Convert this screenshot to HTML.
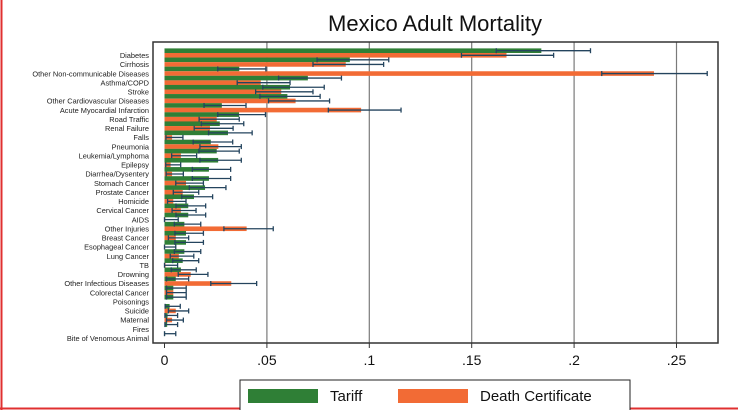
<!DOCTYPE html>
<html><head><meta charset="utf-8"><style>
body{margin:0;background:#fff;width:738px;height:410px;overflow:hidden;font-family:"Liberation Sans",sans-serif}
</style></head><body>
<svg id="c" width="738" height="410" xmlns="http://www.w3.org/2000/svg">
<rect x="0" y="0" width="738" height="410" fill="#fff"/>
<line x1="1.5" y1="0" x2="1.5" y2="410" stroke="#e03030" stroke-width="2"/>
<line x1="0" y1="408.5" x2="738" y2="408.5" stroke="#e03030" stroke-width="2"/>
<text x="435" y="31" font-size="22" text-anchor="middle" fill="#111">Mexico Adult Mortality</text>
<g id="plot"></g>
<g>
<rect x="240" y="380" width="390" height="32" fill="#fff" stroke="#222" stroke-width="1"/>
<rect x="248" y="389" width="70" height="14" fill="#2f7f36"/>
<text x="330" y="401" font-size="15" fill="#111">Tariff</text>
<rect x="398" y="389" width="70" height="14" fill="#f26b35"/>
<text x="480" y="401" font-size="15" fill="#111">Death Certificate</text>
</g>
</svg>
<script>
const categories=["Diabetes","Cirrhosis","Other Non-communicable Diseases","Asthma/COPD","Stroke","Other Cardiovascular Diseases","Acute Myocardial Infarction","Road Traffic","Renal Failure","Falls","Pneumonia","Leukemia/Lymphoma","Epilepsy","Diarrhea/Dysentery","Stomach Cancer","Prostate Cancer","Homicide","Cervical Cancer","AIDS","Other Injuries","Breast Cancer","Esophageal Cancer","Lung Cancer","TB","Drowning","Other Infectious Diseases","Colorectal Cancer","Poisonings","Suicide","Maternal","Fires","Bite of Venomous Animal"];
const tariff=[0.184,0.0905,0.0365,0.070,0.0613,0.060,0.028,0.0364,0.027,0.031,0.0226,0.0255,0.0262,0.0217,0.0217,0.0198,0.0144,0.0116,0.0116,0.0097,0.0105,0.0105,0.0097,0.0089,0.008,0.0055,0.0043,0.0043,0.0025,0.0015,0.0013,0.0003];
const tariffLo=[0.162,0.0745,0.026,0.0557,0.048,0.0466,0.0193,0.026,0.018,0.0215,0.014,0.0168,0.0173,0.0136,0.0136,0.0121,0.0084,0.0056,0.0056,0.0048,0.0051,0.0051,0.0048,0.004,0.0033,0.001,0.001,0.001,0.0003,0.0002,0.0002,0];
const tariffHi=[0.208,0.1095,0.0495,0.0864,0.078,0.076,0.0398,0.0493,0.0387,0.0428,0.0333,0.0365,0.0375,0.0323,0.0323,0.030,0.0235,0.0201,0.0201,0.0177,0.019,0.019,0.0177,0.0167,0.0155,0.0118,0.0106,0.0106,0.0077,0.0064,0.0064,0.0055];
const dc=[0.167,0.0885,0.239,0.047,0.057,0.064,0.096,0.0255,0.0222,0.0037,0.0263,0.008,0.003,0.0037,0.0105,0.0089,0.0043,0.008,0.0004,0.0401,0.0055,0.0003,0.007,0.0005,0.0128,0.0326,0.0043,0,0.0055,0.0037,0,0];
const dcLo=[0.145,0.0725,0.2135,0.0355,0.0445,0.0508,0.080,0.0169,0.0145,0.0007,0.0173,0.0035,0.0006,0.0008,0.0055,0.0043,0.0015,0.0037,0,0.029,0.0019,0,0.0028,0,0.0067,0.0226,0.001,null,0.0019,0.001,null,null];
const dcHi=[0.190,0.107,0.265,0.0613,0.0725,0.0806,0.1155,0.0365,0.0335,0.009,0.0375,0.0157,0.0079,0.0092,0.019,0.0167,0.0105,0.0154,0.0067,0.0531,0.0118,0.0055,0.0143,0.0064,0.0212,0.045,0.0106,null,0.0118,0.0092,null,null];
const ticks=[0,0.05,0.1,0.15,0.2,0.25];
const tickLabels=["0",".05",".1",".15",".2",".25"];

const NS="http://www.w3.org/2000/svg";
const g=document.getElementById('plot');
const L=153,R=718,T=42,B=343;
const x=v=>164.5+v*2048;
const y=i=>53+i*(338-55)/(categories.length-1);
function mk(t,a){const e=document.createElementNS(NS,t);for(const k in a)e.setAttribute(k,a[k]);g.appendChild(e);return e;}
mk('rect',{x:L,y:T,width:R-L,height:B-T,fill:'#fff',stroke:'none'});
ticks.forEach((t,i)=>{
 if(t>0){const gl=mk('line',{x1:x(t),x2:x(t),y1:T,y2:B,stroke:'#7a7a7a','stroke-width':1.2});
 
 }
 const tk=mk('line',{x1:x(t),x2:x(t),y1:B,y2:B+5,stroke:'#333','stroke-width':1});
 
 
 const tl=mk('text',{x:x(t),y:B+22,'font-size':14,'text-anchor':'middle',fill:'#111'});
 tl.textContent=tickLabels[i];
 
 
});
function err(lo,hi,cy,c){
 if(lo==null||hi==null)return;
 const l=mk('line',{x1:x(lo),x2:x(hi),y1:cy,y2:cy,stroke:c,'stroke-width':1.3});
 
 
 [lo,hi].forEach(v=>{const cp=mk('line',{x1:x(v),x2:x(v),y1:cy-2.5,y2:cy+2.5,stroke:c,'stroke-width':1.3});
 
 });
}
categories.forEach((c,i)=>{
 const cy=y(i);
 const lb=mk('text',{x:149,y:cy+5,'font-size':7.4,'text-anchor':'end',fill:'#222'});
 lb.textContent=c;
 
 
 const b1=mk('rect',{x:x(0),y:cy-4.6,width:Math.max(0,x(tariff[i])-x(0)),height:4.6,fill:'#2f7f36'});
 
 
 const b2=mk('rect',{x:x(0),y:cy,width:Math.max(0,x(dc[i])-x(0)),height:4.6,fill:'#f26b35'});
 
 
});
categories.forEach((c,i)=>{
 const cy=y(i);
 err(tariffLo[i],tariffHi[i],cy-2.3,'#24445e');
 err(dcLo[i],dcHi[i],cy+2.3,'#24445e');
});
const fr=mk('rect',{x:L,y:T,width:R-L,height:B-T,fill:'none',stroke:'#333','stroke-width':1.5});


</script>
</body></html>
